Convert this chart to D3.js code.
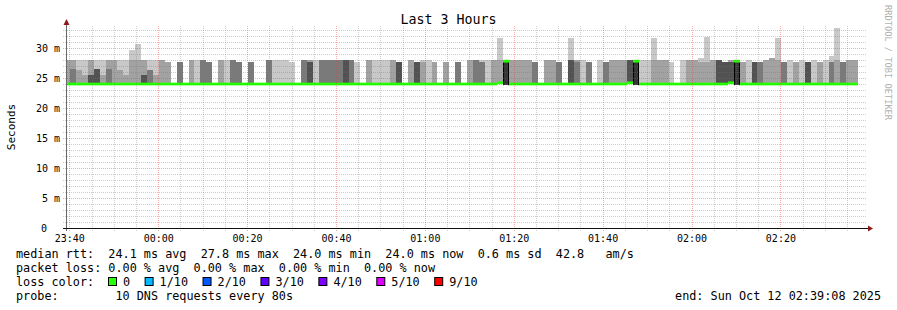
<!DOCTYPE html>
<html>
<head>
<meta charset="utf-8">
<script src="https://cdn.jsdelivr.net/npm/d3@7"></script>
<style>
  body { margin: 0; background: #fff; }
  svg { display: block; }
  text { font-family: "DejaVu Sans Mono", monospace; fill: #000; }
</style>
</head>
<body>
<div id="chart"></div>
<script>
// smokeping "Last 3 Hours" graph, one column per 80 s step
const title = "Last 3 Hours";
const firstColumn = new Date(2025, 9, 11, 23, 38, 50);
const stepSeconds = 80;
const viewStart = new Date(2025, 9, 11, 23, 39, 29);
const viewEnd = new Date(2025, 9, 12, 2, 39, 29);

// top of the smoke in each column (ms), 24 = no spread
const smokeTop = [
  28, 28, 28, 28, 28, 28, 28, 28, 28, 28, 28, 29.6, 30.6, 28, 28, 28, 28, 27.7,
  24, 27.7, 24, 28, 28, 28, 27.7, 24, 28, 28, 28, 27.7, 24, 27.7, 24, 24,
  28, 28, 28, 28, 27.7, 24, 28, 28, 28, 28, 28, 28, 28, 28, 28, 27.7, 24,
  28, 28, 28, 28, 28, 27.7, 24, 28, 27.7, 28, 28, 27.7, 24, 27.7, 24, 27.7, 24,
  28, 28, 28, 28, 28, 31.7, 27.8, 28, 28, 28, 28, 27.7, 24, 28, 28, 27.7, 24,
  31.7, 28, 28, 27.7, 24, 28, 27.7, 28, 28, 28, 28, 27.8, 28, 28, 31.7, 28, 28,
  27.7, 24, 28, 28, 28, 28.3, 31.8, 28, 28, 27.7, 28, 27.8, 27.7, 28, 27.7, 27.7,
  28, 28.3, 31.7, 27.7, 28, 27.7, 28, 27.7, 28, 27.7, 28, 28.6, 33.3, 27.7, 28, 28
];
const smokeShade =
  "MMLLMLLMMLLLLMLLMM" + "-D-MLDD-MLDD-D--" + "DLLLL-DMLDDDDEDL-" + "MLLLME-MELLM-M-D-" +
  "MDLLMLKMMMMD-MMD-" + "LMLD-LDMMMEKLLLMM" + "L-LMMLLMEEMKMLED" + "MMLDLMLELMLLLDMM";

// denser inner band of the smoke (ms), 0 = none
const coreTop = [
  0, 26.5, 26.3, 25.5, 25.5, 26.5, 25.5, 26.5, 0, 26.3, 25.5, 28, 28, 25.5, 26.3, 25.5, 0, 0,
  0, 0, 0, 0, 0, 0, 0, 0, 0, 0, 0, 0, 0, 0, 0, 0,
  0, 0, 0, 0, 0, 0, 0, 27.7, 0, 0, 0, 0, 0, 0, 0, 0, 0,
  0, 0, 0, 0, 0, 0, 0, 0, 0, 27.7, 0, 0, 0, 0, 0, 0, 0,
  0, 0, 27.7, 0, 0, 28, 0, 0, 0, 0, 0, 0, 0, 0, 0, 0, 0,
  28, 27.7, 0, 0, 0, 0, 0, 0, 0, 0, 0, 0, 0, 0, 28, 0, 0,
  0, 0, 0, 0, 0, 27.7, 27.7, 0, 0, 0, 27.7, 0, 0, 0, 0, 0,
  0, 0, 28, 0, 0, 0, 0, 0, 0, 0, 0, 27.7, 28, 0, 0, 0
];
const coreShade =
  "-DMMEEMD-MMMMEDM--" + "----------------" + "-------E---------" + "---------M-------" +
  "--D--M-----------" + "ED------------M--" + "-----MM---E-----" + "--M--------DM---";

// median rtt per column (ms)
const medianRtt = [
  24, 24, 24, 24, 24, 24, 24, 24, 24, 24, 24, 24, 24, 24, 24, 24, 24, 24,
  24, 24, 24, 24, 24, 24, 24, 24, 24, 24, 24, 24, 24, 24, 24, 24,
  24, 24, 24, 24, 24, 24, 24, 24, 24, 24, 24, 24, 24, 24, 24, 24, 24,
  24, 24, 24, 24, 24, 24, 24, 24, 24, 24, 24, 24, 24, 24, 24, 24, 24,
  24, 24, 24, 24, 24, 24.2, 27.8, 24, 24, 24, 24, 24, 24, 24, 24, 24, 24,
  24, 24, 24, 24, 24, 24, 24, 24, 24, 24, 24.2, 27.8, 24, 24, 24, 24, 24,
  24, 24, 24, 24, 24, 24, 24, 24, 24, 24, 24.2, 27.8, 24, 24, 24, 24,
  24, 24, 24, 24, 24, 24, 24, 24, 24, 24, 24, 24, 24, 24, 24, 24
];

const yLabels = [0, 5, 10, 15, 20, 25, 30];
const lossLabels = ["0", "1/10", "2/10", "3/10", "4/10", "5/10", "9/10"];
const lossColors = ["#26ff00", "#00b8ff", "#0059ff", "#5e00ff", "#7e00ff", "#dd00ff", "#ff0000"];
const statsLine = "median rtt:  24.1 ms avg  27.8 ms max  24.0 ms min  24.0 ms now  0.6 ms sd  42.8   am/s";
const lossLine = "packet loss: 0.00 % avg  0.00 % max  0.00 % min  0.00 % now";
const probeLine = "probe:        10 DNS requests every 80s";
const endLine = "end: Sun Oct 12 02:39:08 2025";

const shades = { L: "#c8c8c8", M: "#a2a2a2", D: "#7a7a7a", E: "#525252", K: "#363636" };

const W = 897, H = 310;
const plot = { left: 67, right: 867, top: 27, bottom: 228 };

const svg = d3.select("#chart").append("svg")
    .attr("width", W)
    .attr("height", H);

svg.append("rect").attr("width", W).attr("height", H).attr("fill", "#fff");

const x = d3.scaleTime().domain([viewStart, viewEnd]).range([plot.left, plot.right]);
const y = d3.scaleLinear().domain([0, 33.5]).range([plot.bottom, plot.top]);

svg.append("clipPath").attr("id", "plotclip")
  .append("rect")
    .attr("x", plot.left).attr("y", plot.top - 5)
    .attr("width", plot.right - plot.left).attr("height", plot.bottom - plot.top + 10);

const cols = smokeTop.map((top, i) => {
  const t0 = new Date(firstColumn.getTime() + i * stepSeconds * 1000);
  const t1 = new Date(t0.getTime() + stepSeconds * 1000);
  return {
    x0: Math.round(x(t0)), x1: Math.round(x(t1)),
    top: top, shade: smokeShade[i],
    core: coreTop[i], coreShade: coreShade[i],
    median: medianRtt[i]
  };
});

const g = svg.append("g").attr("clip-path", "url(#plotclip)");

// smoke
g.selectAll("rect.smoke")
  .data(cols.filter(d => d.shade !== "-"))
  .join("rect")
    .attr("class", "smoke")
    .attr("x", d => d.x0)
    .attr("width", d => d.x1 - d.x0)
    .attr("y", d => Math.round(y(d.top)))
    .attr("height", d => Math.round(y(d.shade === "K" ? 23.8 : 24)) - Math.round(y(d.top)))
    .attr("fill", d => shades[d.shade]);

g.selectAll("rect.core")
  .data(cols.filter(d => d.coreShade !== "-"))
  .join("rect")
    .attr("class", "core")
    .attr("x", d => d.x0)
    .attr("width", d => d.x1 - d.x0)
    .attr("y", d => Math.round(y(d.core)))
    .attr("height", d => Math.round(y(24)) - Math.round(y(d.core)))
    .attr("fill", d => shades[d.coreShade]);

// edges of the columns where the median jumped
const jumps = cols.filter(d => d.shade === "K");
g.selectAll("line.edge")
  .data(jumps.flatMap(d => [d.x0 + 0.5, d.x1 - 0.5].map(px => ({ px, top: d.top }))))
  .join("line")
    .attr("x1", d => d.px).attr("x2", d => d.px)
    .attr("y1", d => y(d.top)).attr("y2", y(23.8))
    .attr("stroke", "#000").attr("stroke-width", 1);

// grid
const minorX = d3.timeMinute.every(5).range(viewStart, viewEnd);
const majorX = d3.timeMinute.every(20).range(viewStart, viewEnd);
const minorY = d3.range(1, 34);
const majorY = d3.range(5, 34, 5);
const minorColor = "rgba(120,120,120,0.36)";
const majorColor = "rgba(235,60,60,0.42)";

const grid = svg.append("g");
grid.selectAll("line.vmin").data(minorX.filter(t => t.getMinutes() % 20 !== 0)).join("line")
    .attr("x1", d => Math.round(x(d)) + 0.5).attr("x2", d => Math.round(x(d)) + 0.5)
    .attr("y1", plot.top - 1).attr("y2", plot.bottom + 3)
    .attr("stroke", minorColor).attr("stroke-dasharray", "1,1");
grid.selectAll("line.hmin").data(minorY.filter(v => v % 5 !== 0)).join("line")
    .attr("x1", plot.left - 4).attr("x2", plot.right)
    .attr("y1", d => Math.round(y(d)) + 0.5).attr("y2", d => Math.round(y(d)) + 0.5)
    .attr("stroke", minorColor).attr("stroke-dasharray", "1,1");
grid.selectAll("line.vmaj").data(majorX).join("line")
    .attr("x1", d => Math.round(x(d)) + 0.5).attr("x2", d => Math.round(x(d)) + 0.5)
    .attr("y1", plot.top - 1).attr("y2", plot.bottom + 3)
    .attr("stroke", majorColor).attr("stroke-dasharray", "1,1");
grid.selectAll("line.hmaj").data(majorY).join("line")
    .attr("x1", plot.left - 4).attr("x2", plot.right)
    .attr("y1", d => Math.round(y(d)) + 0.5).attr("y2", d => Math.round(y(d)) + 0.5)
    .attr("stroke", majorColor).attr("stroke-dasharray", "1,1");

// median line (colour = loss 0)
g.selectAll("line.median")
  .data(cols)
  .join("line")
    .attr("class", "median")
    .attr("x1", d => d.x0).attr("x2", d => d.x1)
    .attr("y1", d => y(d.median)).attr("y2", d => y(d.median))
    .attr("stroke", lossColors[0]).attr("stroke-width", 2.7);

// axes
svg.append("line")
    .attr("x1", plot.left - 0.5).attr("x2", plot.left - 0.5)
    .attr("y1", plot.bottom + 3).attr("y2", plot.top - 4)
    .attr("stroke", "#6a6a6a").attr("stroke-width", 1);
svg.append("line")
    .attr("x1", plot.left - 4).attr("x2", plot.right + 2)
    .attr("y1", plot.bottom + 0.5).attr("y2", plot.bottom + 0.5)
    .attr("stroke", "#111").attr("stroke-width", 1);
svg.append("path")
    .attr("d", `M${plot.left - 3.5},${plot.top - 2} L${plot.left + 2.5},${plot.top - 2} L${plot.left - 0.5},${plot.top - 8} Z`)
    .attr("fill", "#8b1a1a");
svg.append("path")
    .attr("d", `M${plot.right + 1},${plot.bottom - 2.5} L${plot.right + 1},${plot.bottom + 3.5} L${plot.right + 6},${plot.bottom + 0.5} Z`)
    .attr("fill", "#8b1a1a");

// tick labels
svg.selectAll("text.ylab").data(yLabels).join("text")
    .attr("x", d => d === 0 ? 47 : 60)
    .attr("y", d => y(d) + 3.5)
    .attr("text-anchor", "end")
    .style("font-size", "10px")
    .text(d => d === 0 ? "0" : d + " m");

const fmt = d3.timeFormat("%H:%M");
svg.selectAll("text.xlab").data(majorX).join("text")
    .attr("x", d => x(d) + 0.5)
    .attr("y", 242)
    .attr("text-anchor", "middle")
    .style("font-size", "10px")
    .text(d => fmt(d));

// titles
svg.append("text")
    .attr("x", W / 2).attr("y", 23.5)
    .attr("text-anchor", "middle")
    .style("font-size", "13.3px")
    .text(title);

svg.append("text")
    .attr("transform", "translate(15,127) rotate(-90)")
    .attr("text-anchor", "middle")
    .style("font-size", "11px")
    .text("Seconds");

svg.append("text")
    .attr("transform", "translate(884.5,5) rotate(90)")
    .style("font-size", "8.7px")
    .style("fill", "#b0b0b0")
    .text("RRDTOOL / TOBI OETIKER");

// legend
const legendFont = "11.8px";
const rows = [statsLine, lossLine, "loss color:", probeLine];
svg.selectAll("text.leg").data(rows).join("text")
    .attr("x", 16)
    .attr("y", (d, i) => 258 + i * 14)
    .style("font-size", legendFont)
    .style("white-space", "pre")
    .text(d => d);

let bx = 108.5;
lossLabels.forEach((lab, i) => {
  svg.append("rect")
      .attr("x", bx).attr("y", 277.5)
      .attr("width", 8).attr("height", 8)
      .attr("fill", lossColors[i]).attr("stroke", "#000").attr("stroke-width", 1);
  const t = svg.append("text")
      .attr("x", bx + 14.5).attr("y", 286)
      .style("font-size", legendFont)
      .text(lab);
  bx = bx + 14.5 + t.node().getComputedTextLength() + 15;
});

svg.append("text")
    .attr("x", 881).attr("y", 300)
    .attr("text-anchor", "end")
    .style("font-size", legendFont)
    .text(endLine);
</script>
</body>
</html>
